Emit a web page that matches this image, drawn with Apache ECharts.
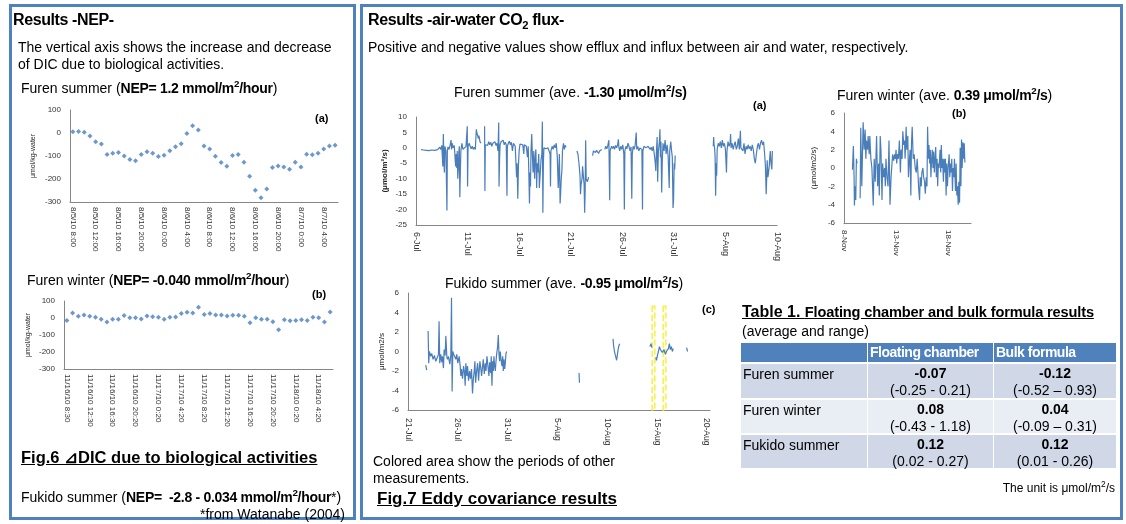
<!DOCTYPE html>
<html>
<head>
<meta charset="utf-8">
<script src="https://cdn.jsdelivr.net/npm/echarts@6/dist/echarts.min.js"></script>
<style>
body { margin: 0; background: #fff; font-family: "Liberation Sans", Arial, sans-serif; color: #000; }
#chart { position: absolute; left: 0; top: 0; width: 1126px; height: 524px; }
.panel { position: absolute; border: 3px solid #4f81bd; box-sizing: border-box; }
.t { position: absolute; white-space: nowrap; font-size: 14px; line-height: 16px; }
.t b { letter-spacing: -0.3px; }
.h1 { font-size: 16px; line-height: 18px; font-weight: bold; letter-spacing: -0.4px; }
.fig { font-size: 17px; line-height: 19px; font-weight: bold; text-decoration: underline; }
.lab { font-size: 11px; font-weight: bold; }
sup, sub { font-size: 0.7em; line-height: 0; }
.cell { position: absolute; box-sizing: border-box; font-size: 14px; line-height: 17px; }
</style>
</head>
<body>
<div id="chart"></div>

<div class="panel" style="left:9px;top:4px;width:347px;height:516px;"></div>
<div class="panel" style="left:360px;top:4px;width:763px;height:516px;"></div>

<!-- left panel -->
<div class="t h1" style="left:13px;top:11px;">Results -NEP-</div>
<div class="t" style="left:18px;top:39px;">The vertical axis shows the increase and decrease</div>
<div class="t" style="left:18px;top:56px;">of DIC due to biological activities.</div>
<div class="t" style="left:21px;top:80px;">Furen summer (<b>NEP= 1.2 mmol/m<sup>2</sup>/hour</b>)</div>
<div class="t lab" style="left:315px;top:110px;">(a)</div>
<div class="t" style="left:27px;top:272px;">Furen winter (<b>NEP= -0.040 mmol/m<sup>2</sup>/hour</b>)</div>
<div class="t lab" style="left:312px;top:286px;">(b)</div>
<div class="t fig" style="left:21px;top:448px;font-size:16.5px;">Fig.6 ⊿DIC due to biological activities</div>
<div class="t" style="left:21px;top:489px;">Fukido summer (<b>NEP=&nbsp; -2.8 - 0.034 mmol/m<sup>2</sup>/hour</b>*)</div>
<div class="t" style="right:781px;top:506px;">*from Watanabe (2004)</div>

<!-- right panel -->
<div class="t h1" style="left:368px;top:11px;">Results -air-water CO<sub>2</sub> flux-</div>
<div class="t" style="left:368px;top:39px;">Positive and negative values show efflux and influx between air and water, respectively.</div>
<div class="t" style="left:454px;top:84px;">Furen summer (ave. <b>-1.30 μmol/m<sup>2</sup>/s)</b></div>
<div class="t lab" style="left:753px;top:97px;">(a)</div>
<div class="t" style="left:837px;top:87px;">Furen winter (ave. <b>0.39 μmol/m<sup>2</sup>/s</b>)</div>
<div class="t lab" style="left:952px;top:105px;">(b)</div>
<div class="t" style="left:445px;top:275px;">Fukido summer (ave. <b>-0.95 μmol/m<sup>2</sup>/s</b>)</div>
<div class="t lab" style="left:702px;top:301px;">(c)</div>
<div class="t" style="left:373px;top:453px;">Colored area show the periods of other</div>
<div class="t" style="left:373px;top:470px;">measurements.</div>
<div class="t fig" style="left:377px;top:489px;">Fig.7 Eddy covariance results</div>

<div class="t" style="left:742px;top:304px;font-weight:bold;text-decoration:underline;"><span style="font-size:16px;">Table 1. </span><span style="font-size:14.6px;letter-spacing:-0.15px;">Floating chamber and bulk formula results</span></div>
<div class="t" style="left:742px;top:323px;">(average and range)</div>
<div id="tbl"></div>
<div class="t" style="right:11px;top:480px;font-size:12px;">The unit is μmol/m<sup>2</sup>/s</div>

<script>
// ---- Fig.6 (a) Furen summer, hourly ⊿DIC
const summerTimes = [
  '8/5/10 8:00','8/5/10 9:00','8/5/10 10:00','8/5/10 11:00','8/5/10 12:00','8/5/10 13:00','8/5/10 14:00','8/5/10 15:00',
  '8/5/10 16:00','8/5/10 17:00','8/5/10 18:00','8/5/10 19:00','8/5/10 20:00','8/5/10 21:00','8/5/10 22:00','8/5/10 23:00',
  '8/6/10 0:00','8/6/10 1:00','8/6/10 2:00','8/6/10 3:00','8/6/10 4:00','8/6/10 5:00','8/6/10 6:00','8/6/10 7:00',
  '8/6/10 8:00','8/6/10 9:00','8/6/10 10:00','8/6/10 11:00','8/6/10 12:00','8/6/10 13:00','8/6/10 14:00','8/6/10 15:00',
  '8/6/10 16:00','8/6/10 17:00','8/6/10 18:00','8/6/10 19:00','8/6/10 20:00','8/6/10 21:00','8/6/10 22:00','8/6/10 23:00',
  '8/7/10 0:00','8/7/10 1:00','8/7/10 2:00','8/7/10 3:00','8/7/10 4:00','8/7/10 5:00','8/7/10 6:00'
];
const summerDIC = [5, 7, 3, -13, -38, -48, -93, -88, -85, -100, -115, -121, -94, -82, -88, -102,
  -97, -77, -60, -47, -2, 32, 13, -57, -70, -101, -128, -145, -98, -93, -127, -188,
  -249, -282, -244, -150, -144, -148, -158, -127, -148, -92, -95, -88, -70, -57, -53];

// ---- Fig.6 (b) Furen winter
const winterTimes = [
  '11/16/10 8:30','11/16/10 9:30','11/16/10 10:30','11/16/10 11:30','11/16/10 12:30','11/16/10 13:30','11/16/10 14:30','11/16/10 15:30',
  '11/16/10 16:30','11/16/10 17:30','11/16/10 18:30','11/16/10 19:20','11/16/10 20:20','11/16/10 21:20','11/16/10 22:20','11/16/10 23:20',
  '11/17/10 0:20','11/17/10 1:20','11/17/10 2:20','11/17/10 3:20','11/17/10 4:20','11/17/10 5:20','11/17/10 6:20','11/17/10 7:20',
  '11/17/10 8:20','11/17/10 9:20','11/17/10 10:20','11/17/10 11:20','11/17/10 12:20','11/17/10 13:20','11/17/10 14:20','11/17/10 15:20',
  '11/17/10 16:20','11/17/10 17:20','11/17/10 18:20','11/17/10 19:20','11/17/10 20:20','11/17/10 21:20','11/17/10 22:20','11/17/10 23:20',
  '11/18/10 0:20','11/18/10 1:20','11/18/10 2:20','11/18/10 3:20','11/18/10 4:20','11/18/10 5:20','11/18/10 6:20'
];
const winterDIC = [-14, 30, 10, 18, 10, 4, -8, -24, -8, -8, 14, 2, 2, -6, 12, 8,
  4, -8, 4, 6, 26, 34, 30, 63, 20, 26, 18, 18, 12, 16, 16, 10,
  -28, 2, -8, -8, -22, -69, -10, -16, -14, -10, -14, 4, 2, -24, 36];

// ---- Fig.7 (a) Furen summer flux, x = days after 6-Jul, null = no data
const furenSummerTicks = ['6-Jul', '11-Jul', '16-Jul', '21-Jul', '26-Jul', '31-Jul', '5-Aug', '10-Aug'];
const furenSummerFlux = [
  [0.49,-0.6],[0.6,-0.9],[0.75,-0.7],[0.9,-1.1],[1.0,-0.8],[1.1,-1.3],[1.25,-0.9],[1.4,-1.2],[1.5,-0.7],[1.65,-1.0],
  [1.8,-0.8],[1.95,-0.9],[2.1,-0.6],[2.2,-0.3],[2.3,0.2],[2.4,-0.5],[2.5,0.8],[2.55,-2.5],[2.6,-6],[2.65,4.5],
  [2.7,-3],[2.75,-8],[2.8,0.5],[2.9,-1],[2.96,-0.4],[3.0,-20.3],[3.04,-1],[3.1,0.3],[3.2,-0.5],[3.3,0.8],
  [3.4,2.5],[3.45,-0.5],[3.5,1.5],[3.6,0],[3.7,0.8],[3.75,-1],[3.8,-4],[3.85,-6],[3.9,-2],[3.95,-6.5],
  [4.0,-1],[4.05,-10],[4.1,-7],[4.15,-1.5],[4.2,0.5],[4.25,-16],[4.3,-7.5],[4.35,-1],[4.45,1.5],[4.55,-0.5],
  [4.7,-0.5],[4.85,0.5],[4.97,7],[5.0,-12.5],[5.05,0.5],[5.15,1.5],[5.25,0.5],[5.35,-0.3],[5.45,0.5],[5.55,-0.5],
  [5.65,0.2],[5.75,-0.5],[5.85,6],[5.9,5],[5.95,5.5],[6.05,3],[6.1,4],[6.2,2],[6.25,2.5],[6.3,1.5],[6.4,null],
  [6.65,7],[6.68,-14],[6.72,1],[6.85,1.5],[6.95,0.8],[7.05,2],[7.15,1],[7.25,1.8],[7.35,0.5],[7.45,1.5],
  [7.55,1.2],[7.65,2],[7.75,0.8],[7.85,1.5],[7.95,-1],[8.02,8.2],[8.05,-12.5],[8.1,-4],[8.15,1],[8.25,2],
  [8.35,1.5],[8.45,2.5],[8.55,1],[8.65,1.8],[8.75,1],[8.82,-15.5],[8.86,0.5],[8.95,1.5],[9.05,2.2],[9.15,1],
  [9.25,1.8],[9.35,-1],[9.45,1.5],[9.55,1.2],[9.62,0.5],[9.68,-4],[9.75,-9.5],[9.8,-5],[9.87,-16.5],[9.93,-6],
  [10.0,-1],[10.08,1.2],[10.15,0.8],[10.25,1.5],[10.35,1],[10.45,-2],[10.5,1],[10.6,1.5],[10.7,0.5],[10.8,-3],
  [10.88,0.5],[10.95,-10],[11.0,-18],[11.05,-8],[11.1,-12.5],[11.15,-1],[11.22,4.5],[11.28,-2],[11.35,-8],[11.42,-1],
  [11.5,-10],[11.55,-4],[11.62,-0.5],[11.7,-13],[11.75,-5],[11.82,-8],[11.9,-2],[11.96,-13],[12.05,-8],[12.12,-4],
  [12.2,-2],[12.25,8.5],[12.3,-21],[12.35,-5],[12.4,0],[12.5,0.2],[12.6,-0.3],[12.7,0.1],[12.8,0],[12.85,-0.5],
  [12.95,-0.3],[13.0,-2],[13.04,-12.5],[13.08,-1],[13.2,0.5],[13.3,-0.5],[13.4,1],[13.5,0],[13.6,1.5],[13.7,-3],
  [13.79,-13],[13.84,-8],[13.9,-2],[13.97,-18],[14.02,-15],[14.08,-10],[14.15,-7],[14.2,-1],[14.3,1.5],[14.38,-0.5],
  [14.45,0.8],[14.55,0.2],[14.61,0.5],[14.8,null],
  [15.6,-1],[15.7,-2],[15.8,-5],[15.85,-7],[15.9,-9],[15.95,-15],[16.0,-12],[16.05,-11],[16.1,-10],[16.15,-6],
  [16.2,-8],[16.3,-12],[16.35,-21],[16.4,-14],[16.45,2.5],[16.5,-10],[16.55,-9.5],[16.6,-11],[16.7,-10],[16.73,-9.5],[16.9,null],
  [17.12,-2.5],[17.2,-1],[17.3,-0.5],[17.4,-1.5],[17.5,-0.8],[17.6,-1.2],[17.7,-1.8],[17.8,-1],[17.9,-1.5],[18.0,-0.5],[18.1,null],
  [18.3,-0.5],[18.4,0.5],[18.5,-0.3],[18.6,0.8],[18.7,2.5],[18.78,-17],[18.82,-1],[18.95,0.5],[19.05,-0.2],[19.15,0.5],
  [19.25,-0.5],[19.35,0.8],[19.45,0],[19.55,1],[19.62,2.8],[19.67,0.2],[19.75,-1],[19.85,0.5],[19.95,-0.5],[20.05,1],
  [20.15,-2],[20.2,-20],[20.25,-1],[20.35,0.5],[20.45,-0.3],[20.55,1.5],[20.65,0.5],[20.75,-1],[20.85,0.3],[20.92,-16.5],
  [20.97,-2],[21.05,0.5],[21.15,-0.5],[21.25,1],[21.35,5],[21.4,-0.5],[21.5,0.5],[21.6,-1],[21.7,0],[21.8,0.5],
  [21.9,-0.5],[21.96,-20],[22.0,-1],[22.1,0.5],[22.2,1],[22.3,0],[22.4,-0.5],[22.5,0.5],[22.6,1],[22.7,-0.5],
  [22.8,0.2],[22.9,-1],[23.0,0.5],[23.1,-2],[23.2,-5],[23.25,-7.5],[23.3,-2],[23.38,3.5],[23.43,-11],[23.5,-1],
  [23.6,2],[23.65,6],[23.7,-3],[23.75,2],[23.82,-14.5],[23.88,-4],[23.95,1.5],[24.05,-1],[24.15,2.5],[24.25,-2],
  [24.35,1],[24.45,-3],[24.55,-13],[24.6,-1],[24.7,2],[24.78,-1],[24.85,-3],[24.92,-19.5],[24.97,-17],[25.03,-5],
  [25.08,-7],[25.13,-2.5],[25.3,null],
  [28.82,0.5],[28.86,3.5],[28.9,1],[28.95,0],[29.0,-3],[29.05,-15.5],[29.1,-5],[29.15,-9],[29.2,-0.5],[29.3,1.5],
  [29.4,0.5],[29.5,2],[29.6,0],[29.7,2.5],[29.8,0.5],[29.9,1.5],[30.0,-0.5],[30.1,-8],[30.15,-1],[30.25,2],
  [30.35,0.5],[30.45,1.5],[30.5,4.5],[30.55,0],[30.65,1.5],[30.75,-0.5],[30.85,1],[30.95,2],[31.05,-0.5],[31.15,0.5],
  [31.25,3],[31.35,-0.5],[31.45,5.5],[31.5,0],[31.6,0.5],[31.7,-1],[31.8,1.5],[31.9,-2],[32.0,0.5],[32.1,-0.5],
  [32.2,1],[32.3,-0.3],[32.4,0.5],[32.5,-1],[32.6,1],[32.7,-0.5],[32.8,-3.5],[32.9,-5],[33.0,-2],[33.1,0.5],
  [33.2,1.5],[33.3,-0.5],[33.4,1.5],[33.5,2.5],[33.6,1],[33.7,2],[33.8,-2],[33.88,-6],[33.95,-15],[34.0,-10],
  [34.05,-4],[34.12,-9.5],[34.18,-8],[34.25,-6],[34.3,-3],[34.35,-1],[34.42,-5],[34.5,-7],[34.55,-1]
];

// ---- Fig.7 (b) Furen winter flux, x = days after 8-Nov
const furenWinterTicks = ['8-Nov', '13-Nov', '18-Nov'];
const furenWinterFlux = [
  [0.81,-0.2],[0.9,2.4],[0.97,-1],[1.0,-4.1],[1.06,-2],[1.13,-3.5],[1.19,1],[1.26,0.5],[1.4,null],
  [1.55,-3.3],[1.61,4.4],[1.71,-2],[1.84,5],[1.94,2],[2.03,4.2],[2.1,1],[2.16,3],[2.26,2],[2.32,3.5],[2.42,1.5],
  [2.48,3.5],[2.58,1],[2.68,0],[2.81,-4.1],[2.9,1],[3.0,-1.5],[3.13,3.5],[3.23,-2],[3.32,0.5],[3.39,-3],
  [3.48,3.5],[3.55,2],[3.65,-3.5],[3.71,0.5],[3.81,-1],[3.9,0],[3.97,-2],[4.03,1],[4.13,-1],[4.23,-2],
  [4.32,3],[4.42,-4],[4.52,-1],[4.61,0.5],[4.68,1.5],[4.77,0.8],[4.87,1.5],[4.94,1],[5.0,2],[5.06,0.5],
  [5.13,1.5],[5.23,1],[5.32,3],[5.42,-0.5],[5.48,2],[5.58,1],[5.65,4],[5.74,2.5],[5.81,3],[5.87,1],
  [5.97,4.5],[6.03,2],[6.13,3.5],[6.19,-1],[6.29,1],[6.35,2],[6.42,-3],[6.48,2.5],[6.55,4.5],[6.65,1],
  [6.74,1.5],[6.84,0],[6.94,-0.5],[7.03,1],[7.1,-0.5],[7.16,-2],[7.26,-3.5],[7.32,-1],[7.42,-2],[7.48,-0.5],
  [7.58,0],[7.65,-1],[7.74,-1.5],[7.81,-2.8],[7.9,-1],[7.97,-2],[8.03,4.5],[8.1,1],[8.16,2.5],[8.23,0.5],
  [8.29,2],[8.35,-1],[8.42,1],[8.48,2],[8.55,0],[8.61,1.8],[8.68,-0.5],[8.74,1],[8.81,2.3],[8.87,-1],
  [8.94,1],[9.0,-2],[9.06,0.5],[9.13,0],[9.23,2],[9.29,-0.5],[9.35,2.5],[9.42,0],[9.48,1],[9.55,-1.5],
  [9.61,1],[9.68,-0.5],[9.74,1],[9.81,-3],[9.87,0.5],[9.94,-2],[10.0,0],[10.1,1.5],[10.16,-1],[10.23,0.5],
  [10.29,-0.5],[10.35,1],[10.42,-2.5],[10.48,0],[10.55,-1],[10.61,1],[10.71,-2.5],[10.77,0.5],[10.84,-3],[10.9,-2],
  [10.97,-4],[11.03,-1.5],[11.1,-3.8],[11.16,2.2],[11.23,-2],[11.29,3.1],[11.35,0],[11.42,2.8],[11.48,1],[11.55,2.7],[11.61,0.6]
];

// ---- Fig.7 (c) Fukido summer flux, x = days after 21-Jul
const fukidoTicks = ['21-Jul', '26-Jul', '31-Jul', '5-Aug', '10-Aug', '15-Aug', '20-Aug'];
const fukidoFlux = [
  [1.78,-1.4],[1.88,-1.9],[1.95,null],
  [2.02,2.1],[2.08,-1.2],[2.15,0],[2.28,-0.5],[2.38,-0.2],[2.52,-0.8],[2.65,-0.4],[2.79,-1],[2.96,-0.8],[3.06,-0.3],
  [3.12,3.1],[3.19,-1.2],[3.29,-0.3],[3.39,-1.1],[3.46,-0.5],[3.56,-1.7],[3.63,0.2],[3.73,-0.4],[3.8,1.6],[3.9,-0.5],
  [3.96,-0.8],[4.06,-0.5],[4.2,-1.3],[4.3,-0.4],[4.37,5.5],[4.43,-4.1],[4.5,0],[4.6,-0.3],[4.7,-0.5],[4.8,-0.8],
  [4.9,-0.3],[5.0,-1.2],[5.14,-0.5],[5.24,-1.5],[5.31,-2.5],[5.37,-1.8],[5.48,-2.8],[5.58,-1.5],[5.68,-2.2],[5.74,-3.5],
  [5.81,-1.2],[5.91,-2.5],[5.98,-1.5],[6.08,-3],[6.18,-2],[6.28,-2.8],[6.38,-1.8],[6.48,-4.3],[6.55,-3],[6.65,-2],
  [6.72,-1],[6.79,-3.2],[6.89,-2],[6.99,-1.2],[7.09,-3],[7.15,-2],[7.22,-1],[7.32,-1.8],[7.39,-2.5],[7.49,-1.5],
  [7.56,-0.8],[7.66,-2.3],[7.76,-1.2],[7.83,-2],[7.93,-0.5],[8.03,-1.5],[8.13,-2.5],[8.2,-1.1],[8.3,-2.2],[8.36,-0.5],
  [8.43,-3.5],[8.5,-1],[8.57,-2],[8.63,-0.5],[8.7,-1.5],[8.77,-2],[8.83,-1.1],[8.9,-0.3],[9.0,0.5],[9.07,1.7],
  [9.14,-0.3],[9.2,-1],[9.27,0],[9.34,-0.8],[9.44,-1.5],[9.51,-0.5],[9.57,-2],[9.64,-0.8],[9.71,-1.8],[9.77,-1.2],
  [9.84,-0.2],[9.91,0],[10.0,null],
  [17.18,-2.2],[17.22,-3.2],[17.3,null],
  [20.59,1.3],[20.65,0.6],[20.72,0.1],[20.8,-0.3],[20.88,-0.6],[20.95,-0.9],[21.02,-0.4],[21.1,0.2],[21.18,0.6],[21.26,0.8],[21.4,null],
  [24.29,0.5],[24.4,0.8],[24.5,0.4],[24.7,null],
  [24.89,-0.6],[24.95,-0.9],[25.05,-0.4],[25.15,0],[25.25,0.5],[25.35,0.2],[25.45,0],[25.55,-0.1],[25.7,0.2],[25.85,-0.3],
  [25.95,0],[26.05,-0.2],[26.15,0.3],[26.25,0.8],[26.35,0.2],[26.45,0.5],[26.55,0],[26.64,0.3],[26.8,null],
  [27.98,0.4],[28.08,0]
];
// periods of other measurements (days after 21-Jul)
const otherPeriods = [[24.52, 24.79], [25.63, 25.9]];

// ---- Table 1
const tableRows = ['Furen summer', 'Furen winter', 'Fukido summer'];
const tableHead = ['Floating chamber', 'Bulk formula'];
const chamberAvg = ['-0.07', '0.08', '0.12'];
const chamberRange = ['(-0.25 - 0.21)', '(-0.43 - 1.18)', '(0.02 - 0.27)'];
const bulkAvg = ['-0.12', '0.04', '0.12'];
const bulkRange = ['(-0.52 – 0.93)', '(-0.09 – 0.31)', '(0.01 - 0.26)'];

const blue = '#4a7ebb';
const axisGray = '#868686';
const font = 'Liberation Sans';

function yAxis(idx, min, max, interval, name, nameGap, extra) {
  return Object.assign({
    type: 'value', gridIndex: idx, min: min, max: max, interval: interval,
    name: name, nameLocation: 'middle', nameRotate: 90, nameGap: nameGap,
    nameTextStyle: { fontSize: 8, color: '#222', fontFamily: font },
    splitLine: { show: false },
    axisTick: { show: false },
    axisLine: { show: true, lineStyle: { color: axisGray } },
    axisLabel: { fontSize: 8, color: '#333', fontFamily: font, margin: 9 }
  }, extra || {});
}

function dayAxis(idx, max, ticks, margin, size, showMax) {
  return {
    type: 'value', gridIndex: idx, min: 0, max: max, interval: 5,
    splitLine: { show: false },
    axisTick: { show: false },
    axisLine: { onZero: false, lineStyle: { color: axisGray } },
    axisLabel: {
      rotate: -90, fontSize: size, color: '#333', fontFamily: font, margin: margin,
      showMaxLabel: showMax,
      formatter: function (v) { return ticks[Math.round(v / 5)] || ''; }
    }
  };
}

function catAxis(idx, cats) {
  return {
    type: 'category', gridIndex: idx, data: cats, boundaryGap: true,
    splitLine: { show: false },
    axisTick: { show: false },
    axisLine: { onZero: false, lineStyle: { color: axisGray } },
    axisLabel: { rotate: -90, interval: 3, fontSize: 8, color: '#333', fontFamily: font, margin: 5 }
  };
}

const option = {
  animation: false,
  grid: [
    { left: 70, top: 110, width: 268, height: 92 },
    { left: 64, top: 301, width: 269, height: 68 },
    { left: 416, top: 117, width: 361, height: 108 },
    { left: 844, top: 113, width: 127, height: 110 },
    { left: 408, top: 293, width: 302, height: 117 }
  ],
  xAxis: [
    catAxis(0, summerTimes),
    catAxis(1, winterTimes),
    dayAxis(2, 35, furenSummerTicks, 7, 9, true),
    dayAxis(3, 12.2, furenWinterTicks, 7, 8, false),
    dayAxis(4, 30.33, fukidoTicks, 8, 8.5, false)
  ],
  yAxis: [
    yAxis(0, -300, 100, 100, 'μmol/kg-water', 33, { nameTextStyle: { fontSize: 7, color: '#222', fontFamily: font } }),
    yAxis(1, -300, 100, 100, 'μmol/kg-water', 32, { nameTextStyle: { fontSize: 7, color: '#222', fontFamily: font } }),
    yAxis(2, -25, 10, 5, '(μmol/m²/s)', 27, { nameTextStyle: { fontSize: 8, fontWeight: 'bold', color: '#222', fontFamily: font } }),
    yAxis(3, -6, 6, 2, '(μmol/m2/s)', 26),
    yAxis(4, -6, 6, 2, 'μmol/m2/s', 22)
  ],
  series: [
    { type: 'scatter', xAxisIndex: 0, yAxisIndex: 0, data: summerDIC, symbol: 'diamond', symbolSize: 5, itemStyle: { color: '#4a7ebb' } },
    { type: 'scatter', xAxisIndex: 1, yAxisIndex: 1, data: winterDIC, symbol: 'diamond', symbolSize: 5, itemStyle: { color: '#4a7ebb' } },
    { type: 'line', xAxisIndex: 2, yAxisIndex: 2, data: furenSummerFlux, showSymbol: false, connectNulls: false, lineStyle: { color: blue, width: 1.2 } },
    { type: 'line', xAxisIndex: 3, yAxisIndex: 3, data: furenWinterFlux, showSymbol: false, connectNulls: false, lineStyle: { color: blue, width: 1.2 } },
    {
      type: 'line', xAxisIndex: 4, yAxisIndex: 4, data: fukidoFlux, showSymbol: false, connectNulls: false,
      lineStyle: { color: blue, width: 1.2 },
      markArea: {
        silent: true,
        itemStyle: { color: 'rgba(255,255,150,0.2)', borderColor: '#f7f04a', borderWidth: 1.5, borderType: 'dashed' },
        data: otherPeriods.map(function (p) { return [{ xAxis: p[0], yAxis: 4.64 }, { xAxis: p[1], yAxis: -6 }]; })
      }
    }
  ]
};

const chart = echarts.init(document.getElementById('chart'));
chart.setOption(option);

// table 1 cells
const tbl = document.getElementById('tbl');
const colX = [741, 868, 994], colW = [126, 125, 122];
const rowY = [364, 400, 435], rowH = [34, 33, 33];
const rowBg = ['#d0d8e8', '#e9edf4', '#d0d8e8'];
function cell(x, y, w, h, bg, html, style) {
  const d = document.createElement('div');
  d.className = 'cell';
  d.style.cssText = 'left:' + x + 'px;top:' + y + 'px;width:' + w + 'px;height:' + h + 'px;background:' + bg + ';' + (style || '');
  d.innerHTML = html;
  tbl.appendChild(d);
}
cell(colX[0], 343, colW[0], 19, '#4f81bd', '');
for (let c = 0; c < 2; c++) {
  cell(colX[c + 1], 343, colW[c + 1], 19, '#4f81bd', tableHead[c],
    'color:#fff;font-weight:bold;padding:1px 0 0 2px;letter-spacing:-0.5px;font-size:14px;');
}
for (let r = 0; r < tableRows.length; r++) {
  cell(colX[0], rowY[r], colW[0], rowH[r], rowBg[r], tableRows[r], 'padding:2px 0 0 2px;');
  cell(colX[1], rowY[r], colW[1], rowH[r], rowBg[r], '<b>' + chamberAvg[r] + '</b><br>' + chamberRange[r], 'text-align:center;padding-top:1px;');
  cell(colX[2], rowY[r], colW[2], rowH[r], rowBg[r], '<b>' + bulkAvg[r] + '</b><br>' + bulkRange[r], 'text-align:center;padding-top:1px;');
}
</script>
</body>
</html>
